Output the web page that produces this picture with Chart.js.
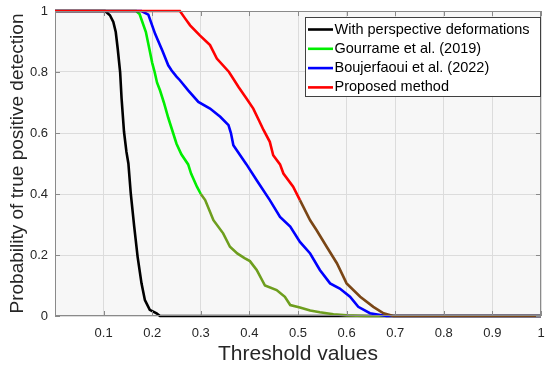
<!DOCTYPE html>
<html>
<head>
<meta charset="utf-8">
<script src="https://cdn.jsdelivr.net/npm/chart.js@4"></script>
<style>
  html, body { margin: 0; padding: 0; background: #fff; }
  #wrap { width: 550px; height: 371px; }
</style>
</head>
<body>
<div id="wrap"><canvas id="chart" width="550" height="371"></canvas></div>
<script>
  // ── data ──────────────────────────────────────────────────
  const LABELS = [
    'With perspective deformations',
    'Gourrame et al. (2019)',
    'Boujerfaoui et al. (2022)',
    'Proposed method',
  ];

  const blackX = [0, 0.103, 0.113, 0.12, 0.125, 0.129, 0.134, 0.137, 0.142, 0.147, 0.151, 0.156, 0.163, 0.170, 0.178, 0.185, 0.195, 0.209, 0.216, 1];
  const blackY = [1, 1, 0.986, 0.964, 0.931, 0.877, 0.80, 0.713, 0.604, 0.538, 0.50, 0.40, 0.293, 0.194, 0.107, 0.052, 0.02, 0.009, 0, 0];

  const greenX = [0, 0.167, 0.174, 0.187, 0.194, 0.200, 0.205, 0.21, 0.216, 0.224, 0.233, 0.243, 0.25, 0.26, 0.274, 0.28, 0.292, 0.30, 0.309, 0.326, 0.346, 0.36, 0.375, 0.39, 0.401, 0.415, 0.432, 0.456, 0.473, 0.484, 0.504, 0.525, 0.545, 0.573, 0.60, 0.641, 1];
  const greenY = [1, 1, 0.99, 0.931, 0.877, 0.83, 0.80, 0.765, 0.74, 0.70, 0.65, 0.60, 0.565, 0.53, 0.497, 0.467, 0.424, 0.40, 0.38, 0.314, 0.271, 0.227, 0.205, 0.19, 0.18, 0.151, 0.10, 0.085, 0.063, 0.036, 0.028, 0.018, 0.012, 0.006, 0.002, 0, 0];

  const blueX = [0, 0.178, 0.192, 0.206, 0.221, 0.233, 0.24, 0.25, 0.257, 0.274, 0.295, 0.319, 0.34, 0.357, 0.362, 0.367, 0.381, 0.394, 0.415, 0.442, 0.463, 0.484, 0.504, 0.525, 0.545, 0.566, 0.586, 0.607, 0.624, 0.648, 0.682, 1];
  const blueY = [1, 1, 0.988, 0.925, 0.87, 0.822, 0.805, 0.785, 0.773, 0.74, 0.702, 0.68, 0.653, 0.626, 0.60, 0.56, 0.527, 0.497, 0.445, 0.38, 0.325, 0.293, 0.243, 0.205, 0.151, 0.107, 0.09, 0.063, 0.03, 0.009, 0, 0];

  const redX = [0, 0.257, 0.268, 0.278, 0.298, 0.319, 0.333, 0.358, 0.378, 0.394, 0.408, 0.42, 0.429, 0.442, 0.449, 0.463, 0.47, 0.49, 0.504, 0.525, 0.538, 0.559, 0.58, 0.60, 0.628, 0.655, 0.676, 0.696, 1];
  const redY = [1, 1, 0.975, 0.953, 0.92, 0.888, 0.844, 0.80, 0.75, 0.713, 0.68, 0.64, 0.61, 0.571, 0.527, 0.497, 0.467, 0.424, 0.38, 0.314, 0.282, 0.227, 0.173, 0.107, 0.063, 0.03, 0.009, 0, 0];

  const xTicks = [0, 0.1, 0.2, 0.3, 0.4, 0.5, 0.6, 0.7, 0.8, 0.9, 1];
  const yTicks = [0, 0.2, 0.4, 0.6, 0.8, 1];

  // ── helpers ───────────────────────────────────────────────
  const FONT = "'Liberation Sans', Arial, Helvetica, sans-serif";
  Chart.defaults.font.family = FONT;

  function zip(xs, ys) {
    return xs.map((x, i) => ({ x, y: ys[i] }));
  }

  function series(label, xs, ys, color, order, segColor) {
    const ds = {
      label,
      data: zip(xs, ys),
      borderColor: color,
      backgroundColor: color,
      borderWidth: 2.6,
      pointRadius: 0,
      tension: 0,
      fill: false,
      clip: 4,
      order,
    };
    // jpeg-ish tint seen in the lower part of some curves
    if (segColor) {
      ds.segment = { borderColor: c => (c.p0.parsed.x >= segColor.from ? segColor.color : color) };
    }
    return ds;
  }

  // ── plugins: plot background, frame with inner ticks, legend box ──
  const plotBg = {
    id: 'plotBg',
    beforeDraw(chart) {
      const { ctx, chartArea: a } = chart;
      ctx.save();
      ctx.fillStyle = '#ffffff';
      ctx.fillRect(0, 0, chart.width, chart.height);
      ctx.fillStyle = '#f7f7f7';
      ctx.fillRect(a.left, a.top, a.right - a.left, a.bottom - a.top);
      ctx.restore();
    },
  };

  const frame = {
    id: 'frame',
    afterDatasetsDraw(chart) {
      const { ctx, chartArea: a, scales } = chart;
      ctx.save();
      ctx.strokeStyle = '#8a8a8a';
      ctx.lineWidth = 1;
      ctx.strokeRect(a.left + 0.5, a.top + 0.5, a.right - a.left - 1, a.bottom - a.top - 1);
      ctx.beginPath();
      const len = 5;
      xTicks.forEach(v => {
        const px = Math.round(scales.x.getPixelForValue(v)) + 0.5;
        ctx.moveTo(px, a.top); ctx.lineTo(px, a.top + len);
        ctx.moveTo(px, a.bottom); ctx.lineTo(px, a.bottom - len);
      });
      yTicks.forEach(v => {
        const py = Math.round(scales.y.getPixelForValue(v)) + 0.5;
        ctx.moveTo(a.left, py); ctx.lineTo(a.left + len, py);
        ctx.moveTo(a.right, py); ctx.lineTo(a.right - len, py);
      });
      ctx.stroke();
      ctx.restore();
    },
  };

  const legendBox = {
    id: 'legendBox',
    afterDraw(chart) {
      const { ctx, chartArea: a } = chart;
      const w = 236, h = 80;
      const x0 = a.right - w, y0 = 17;
      ctx.save();
      ctx.fillStyle = '#ffffff';
      ctx.fillRect(x0, y0, w, h);
      ctx.strokeStyle = '#404040';
      ctx.lineWidth = 1;
      ctx.strokeRect(x0 + 0.5, y0 + 0.5, w - 1, h - 1);
      ctx.font = '14.5px ' + FONT;
      ctx.textBaseline = 'middle';
      ctx.textAlign = 'left';
      chart.data.datasets.forEach((ds, i) => {
        const yy = y0 + 12.5 + i * 19.3;
        ctx.strokeStyle = ds.borderColor;
        ctx.lineWidth = 2.6;
        ctx.beginPath();
        ctx.moveTo(x0 + 3, yy);
        ctx.lineTo(x0 + 28, yy);
        ctx.stroke();
        ctx.fillStyle = '#000000';
        ctx.fillText(ds.label, x0 + 29.5, yy);
      });
      ctx.restore();
    },
  };

  // ── chart ─────────────────────────────────────────────────
  const datasets = [
    series(LABELS[0], blackX, blackY, '#000000', 4),
    series(LABELS[1], greenX, greenY, '#00ee00', 3, { from: 0.298, color: '#6e9e1e' }),
    series(LABELS[2], blueX, blueY, '#0000ff', 2),
    series(LABELS[3], redX, redY, '#ff0000', 1, { from: 0.492, color: '#7a4616' }),
  ];

  new Chart(document.getElementById('chart'), {
    type: 'line',
    data: { datasets },
    plugins: [plotBg, frame, legendBox],
    options: {
      responsive: false,
      animation: false,
      layout: { padding: { top: 11, right: 9, left: 0, bottom: 0 } },
      plugins: { legend: { display: false }, tooltip: { enabled: false } },
      scales: {
        x: {
          type: 'linear',
          min: 0,
          max: 1,
          afterBuildTicks: s => { s.ticks = xTicks.map(v => ({ value: v })); },
          afterFit: s => { s.height = 55; s.paddingLeft = 0; s.paddingRight = 0; },
          ticks: {
            color: '#262626',
            font: { size: 13 },
            padding: 10,
            maxRotation: 0,
            callback: v => (v === 0 ? '' : String(v)),
          },
          grid: { color: '#dcdcdc', drawTicks: false },
          border: { display: false },
          title: {
            display: true,
            text: 'Threshold values',
            color: '#262626',
            font: { size: 21 },
            padding: { top: 0, bottom: 4 },
          },
        },
        y: {
          min: 0,
          max: 1,
          afterBuildTicks: s => { s.ticks = yTicks.map(v => ({ value: v })); },
          afterFit: s => { s.width = 55; s.paddingTop = 0; s.paddingBottom = 0; },
          ticks: {
            color: '#262626',
            font: { size: 13 },
            padding: 7,
            callback: v => String(v),
          },
          grid: { color: '#dcdcdc', drawTicks: false },
          border: { display: false },
          title: {
            display: true,
            text: 'Probability of true positive detection',
            color: '#262626',
            font: { size: 19 },
            padding: { top: 6, bottom: 0 },
          },
        },
      },
    },
  });
</script>
</body>
</html>
